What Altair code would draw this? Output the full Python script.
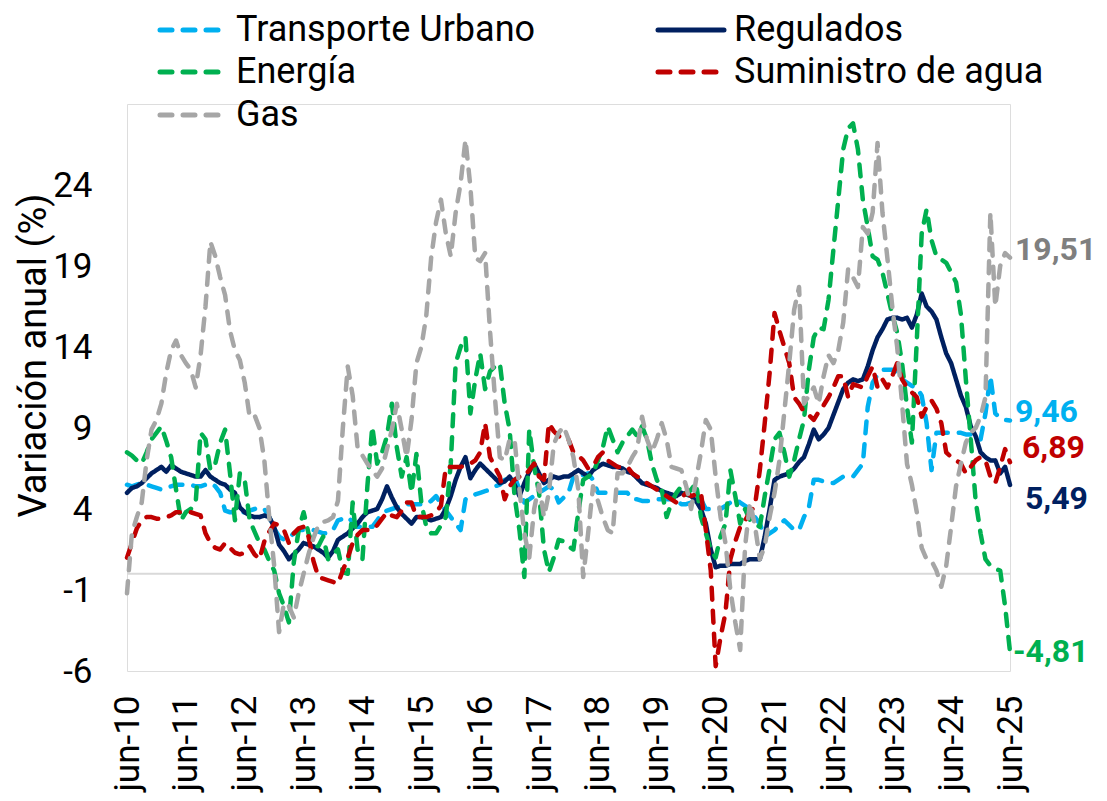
import altair as alt
import pandas as pd

# Months since jun-2010 (0 = jun-10 ... 180 = jun-25)
months = list(range(181))

series_names = ["Transporte Urbano", "Regulados", "Energía", "Suministro de agua", "Gas"]
series_colors = ["#00B0F0", "#002060", "#00B050", "#C00000", "#A6A6A6"]
label_colors = ["#00B0F0", "#002060", "#00B050", "#C00000", "#7F7F7F"]

transporte = [
    5.5, 5.4, 5.5, 5.6, 5.5, 5.4, 5.3, 5.2, 5.3, 5.4, 5.5, 5.5,
    5.5, 5.5, 5.4, 5.4, 5.5, 5.6, 5.4, 5.0, 3.9, 3.8, 3.8, 3.8,
    3.8, 3.9, 4.0, 4.1, 4.0, 3.5, 2.8, 2.3, 2.1, 2.2, 2.5, 2.7,
    2.7, 2.7, 2.7, 2.6, 2.5, 2.5, 2.7, 3.3, 3.4, 3.5, 3.2, 2.9,
    2.9, 2.9, 2.9, 3.3, 3.7, 3.9, 4.0, 4.1, 4.2, 4.3, 4.3, 4.3,
    4.3, 4.3, 4.5, 4.8, 4.3, 3.9, 3.5, 3.1, 2.7, 4.6, 4.7, 4.9,
    5.0, 5.1, 5.2, 5.4, 5.5, 5.8, 5.9, 6.0, 5.2, 4.4, 4.6, 4.8,
    5.0, 5.2, 5.4, 5.2, 4.4, 4.7, 5.0, 6.0, 6.1, 6.1, 6.2, 5.8,
    5.0, 5.0, 5.0, 5.0, 5.0, 5.0, 5.0, 4.6, 4.6, 4.5, 4.5, 4.5,
    4.6, 4.6, 4.6, 4.6, 4.5, 4.3, 4.3, 4.4, 4.5, 4.6, 4.0, 4.0,
    4.0, 4.0, 4.2, 4.4, 4.6, 4.4, 4.2, 4.0, 3.5, 3.1, 2.3, 2.5,
    2.7, 3.0, 3.3, 3.0, 2.7, 2.7, 3.5, 4.1, 5.8, 5.8, 5.7, 5.6,
    5.6, 5.8, 6.0, 6.0, 6.0, 6.4, 6.8, 10.3, 11.8, 12.3, 12.6, 12.6,
    12.6, 12.4, 12.0, 11.8, 11.6, 11.5, 11.0, 9.3, 6.4, 8.7, 8.7, 8.7,
    8.7, 8.7, 8.7, 8.6, 8.6, 8.5, 8.3, 9.9, 12.2, 9.9, 9.6, 9.5,
    9.46,
]

regulados = [
    5.0, 5.3, 5.4, 5.6, 5.9, 6.2, 6.4, 6.6, 6.3, 6.7, 6.5, 6.3,
    6.2, 6.1, 6.0, 6.0, 6.4, 6.0, 5.8, 5.6, 5.5, 5.2, 5.0, 4.1,
    3.8, 3.6, 3.5, 3.5, 3.6, 3.5, 2.9, 1.8, 1.4, 0.9, 1.2, 1.5,
    1.9, 1.8, 1.7, 1.5, 1.3, 1.0, 1.4, 2.1, 2.3, 2.5, 2.8, 3.1,
    3.5, 3.8, 3.9, 4.0, 4.6, 5.4, 4.7, 4.1, 3.7, 3.4, 3.1, 3.5,
    3.5, 3.4, 3.3, 3.4, 3.5, 4.0, 4.8, 5.8, 6.6, 7.2, 5.9, 6.4,
    6.8, 6.5, 6.2, 5.9, 5.6, 5.7, 6.0, 5.5, 4.8, 5.6, 6.3, 6.8,
    6.2, 5.6, 5.8, 6.0, 5.9, 6.0, 6.0, 6.2, 6.4, 6.2, 6.0, 6.4,
    6.6, 6.8, 6.7, 6.6, 6.6, 6.5, 6.3, 6.2, 5.9, 5.6, 5.5, 5.4,
    5.3, 5.1, 5.0, 4.9, 4.8, 5.0, 4.9, 4.8, 4.5, 4.0, 3.1, 1.5,
    0.4, 0.5, 0.5, 0.6, 0.6, 0.6, 0.8, 0.9, 0.9, 0.9, 2.3, 4.0,
    5.8, 6.0, 6.1, 6.2, 6.5, 6.9, 7.2, 8.0, 8.9, 8.3, 8.6, 9.0,
    9.8, 10.6, 11.4, 11.8, 12.0, 11.9, 12.0, 12.8, 13.8, 14.6, 15.1, 15.7,
    15.8, 15.8, 15.7, 15.8, 15.2, 16.0, 17.3, 16.5, 16.2, 15.7, 14.6, 13.6,
    13.0, 12.0, 11.0, 10.3, 9.1, 8.5, 7.5, 7.2, 7.0, 7.0, 6.2, 6.6,
    5.49,
]

energia = [
    7.5, 7.3, 7.0, 6.8, 7.5, 8.3, 8.7, 9.1, 8.2, 7.2, 5.2, 3.3,
    3.8, 4.0, 4.4, 8.7, 8.3, 6.4, 6.8, 8.1, 8.9, 6.2, 3.3, 6.2,
    5.8, 3.3, 2.6, 1.9, 1.5, 0.8, 0.2, -1.2, -2.0, -3.0, 0.7, 2.7,
    3.8, 2.5, 1.7, 1.7, 2.3, 0.9, 1.2, 1.5, 0.1, 0.0, 4.4, 1.5,
    0.9, 5.4, 9.1, 6.8, 7.5, 8.5, 10.5, 7.8, 6.0, 7.2, 5.0, 7.4,
    4.4, 2.9, 2.5, 2.5, 3.0, 3.5, 6.8, 13.0, 14.0, 14.6, 9.9, 12.0,
    13.6, 11.4, 12.5, 12.8, 13.0, 10.5, 8.9, 4.8, 2.7, -0.2, 8.9, 6.6,
    5.0, 1.5, 0.1, 1.0, 2.1, 2.0, 1.7, 1.5, 3.8, 5.8, 6.0, 6.2,
    7.0, 7.8, 9.1, 8.3, 7.5, 8.1, 8.5, 8.9, 8.5, 9.1, 8.3, 6.8,
    5.8, 5.2, 3.5, 4.4, 5.0, 5.4, 4.9, 5.2, 5.6, 3.5, 2.5, 1.5,
    1.0, 2.3, 3.1, 6.4, 4.8, 3.1, 4.0, 3.3, 3.1, 2.9, 4.8, 6.5,
    8.3, 8.7, 7.5, 6.0, 7.0, 8.3, 9.5, 12.6, 14.6, 15.2, 15.1, 16.9,
    20.0, 23.1, 26.2, 27.5, 27.8, 26.2, 23.1, 21.4, 19.6, 19.4, 18.6, 17.3,
    16.0, 14.9, 13.0, 10.3, 8.1, 14.4, 21.0, 22.5, 20.6, 19.6, 19.4, 19.2,
    18.6, 18.0, 16.0, 12.0, 8.3, 4.5, 2.5, 0.9, 0.5, 0.3, 0.2, -2.0,
    -4.81,
]

agua = [
    1.0, 1.9, 2.8, 3.3, 3.5, 3.5, 3.4, 3.4, 3.5, 3.6, 3.8, 3.8,
    3.8, 3.8, 3.7, 3.6, 2.5, 1.9, 1.6, 1.5, 1.9, 1.6, 1.3, 1.2,
    1.3, 1.7, 1.2, 0.9, 2.0, 2.6, 3.1, 3.0, 2.7, 1.9, 2.5, 2.8,
    2.9, 2.3, 0.8, -0.2, -0.3, -0.4, -0.5, -0.6, 0.2, 1.0, 1.9, 2.4,
    2.7, 2.7, 2.7, 3.0, 3.4, 3.8, 3.6, 3.5, 3.9, 4.4, 4.4, 3.5,
    3.5, 3.5, 3.6, 3.8, 4.2, 6.6, 6.6, 6.6, 6.6, 6.7, 6.8, 7.0,
    7.5, 9.3, 7.2, 6.6, 6.0, 4.6, 5.4, 5.8, 6.0, 6.0, 6.4, 6.8,
    6.0, 5.8, 9.3, 8.8, 8.5, 8.3, 8.3, 7.5, 7.3, 7.0, 6.5, 6.6,
    7.2, 7.5, 7.0, 6.8, 6.6, 6.6, 6.6, 6.2, 6.0, 5.8, 5.6, 5.4,
    5.2, 5.0, 4.8, 4.6, 4.4, 4.7, 5.0, 4.8, 4.9, 5.0, 2.7, 0.2,
    -5.7, -3.9, -2.4, 0.9, 2.0, 2.9, 3.3, 3.8, 4.2, 6.4, 9.3, 12.4,
    16.1, 15.0, 14.0, 13.0, 10.9, 10.5, 10.0, 9.8, 9.5, 10.0, 10.4, 10.9,
    11.5, 12.2, 12.2, 10.9, 11.7, 11.6, 11.5, 12.2, 12.8, 11.5, 12.0, 11.5,
    12.2, 13.0, 12.0, 11.5, 11.2, 10.9, 9.7, 10.3, 10.7, 10.2, 9.3, 7.5,
    7.2, 7.0, 6.8, 6.2, 6.6, 7.0, 7.2, 7.0, 6.0, 5.6, 6.6, 7.7,
    6.89,
]

gas = [
    -1.2, 2.5, 3.5, 4.4, 7.0, 8.9, 9.5, 10.5, 12.4, 13.8, 14.4, 13.5,
    13.0, 12.6, 11.5, 13.5, 16.5, 20.5, 19.6, 18.3, 17.2, 15.0, 13.8, 13.2,
    11.8, 9.7, 9.8, 9.0, 7.0, 3.5, 0.5, -3.6, -1.8, -2.0, -2.7, -1.2,
    0.0, 1.2, 2.2, 3.0, 3.2, 3.3, 3.5, 4.5, 9.0, 12.8, 11.0, 7.8,
    7.3, 6.8, 6.4, 6.0, 6.5, 7.7, 8.9, 10.5, 8.9, 7.2, 9.5, 13.0,
    14.0, 15.9, 19.5, 21.7, 23.1, 21.0, 19.6, 22.3, 24.1, 26.8, 23.9, 19.5,
    19.3, 19.8, 15.0, 10.9, 7.2, 7.0, 8.3, 8.3, 5.2, 2.5, 1.0, 4.0,
    5.5, 3.5, 5.0, 8.0, 8.7, 9.1, 8.3, 7.2, 5.2, -0.2, 2.5, 5.4,
    4.5, 3.5, 2.7, 2.5, 6.2, 6.2, 6.6, 7.2, 7.7, 9.7, 8.3, 7.5,
    8.3, 9.3, 8.3, 6.6, 6.5, 6.4, 5.4, 4.0, 5.8, 7.5, 9.5, 8.9,
    6.0, 3.5, 1.9, -1.0, -3.0, -4.7, 1.7, 4.4, 3.0, 0.9, 1.7, 3.5,
    5.0, 7.0, 10.0, 13.0, 16.3, 17.7, 10.5, 11.0, 11.5, 10.5, 12.2, 13.5,
    13.0, 13.8, 15.5, 18.8, 18.3, 17.7, 21.4, 21.0, 22.3, 26.6, 22.3, 19.5,
    16.5, 14.0, 10.5, 6.8, 5.5, 3.8, 1.6, 0.9, 0.8, 0.2, -0.8, 0.5,
    2.9, 5.4, 6.8, 8.1, 8.7, 9.0, 9.7, 10.9, 22.3, 16.5, 19.0, 19.8,
    19.51,
]

all_values = [transporte, regulados, energia, agua, gas]

tick_months = list(range(0, 181, 12))
y_ticks = [-6, -1, 4, 9, 14, 19, 24]

rows = []
for name, vals in zip(series_names, all_values):
    for m, v in zip(months, vals):
        rows.append({"m": m, "serie": name, "v": v})
df = pd.DataFrame(rows)

FONT = "Roboto"
DASH = [12, 11]
SOLID = [1, 0]
series_dash = [DASH, SOLID, DASH, DASH, DASH]

x_scale = alt.Scale(domain=[0, 180], nice=False, zero=False)
x_axis = alt.Axis(
    values=tick_months,
    labelExpr="'jun-' + (10 + datum.value / 12)",
    labelAngle=-90,
    labelFontSize=35,
    labelFont=FONT,
    labelColor="#000000",
    labelPadding=24,
    labelOverlap=False,
    labelFlush=False,
    ticks=False,
    domain=False,
    grid=False,
    title=None,
)
y_scale = alt.Scale(domain=[-6, 29], nice=False, zero=False)
y_axis = alt.Axis(
    values=y_ticks,
    labelExpr="'' + datum.value",
    labelFontSize=35,
    labelFont=FONT,
    labelColor="#000000",
    labelPadding=35,
    ticks=False,
    domain=False,
    grid=False,
    title="Variación anual (%)",
    titleFont=FONT,
    titleFontSize=38,
    titleFontWeight="normal",
    titleColor="#000000",
    titleX=-82,
    titleY=251,
    titleAngle=270,
    titleAlign="center",
    titleBaseline="alphabetic",
)

lines = alt.Chart(df).mark_line(
    strokeWidth=4.5, strokeCap="round", strokeJoin="round"
).encode(
    x=alt.X("m:Q", scale=x_scale, axis=x_axis),
    y=alt.Y("v:Q", scale=y_scale, axis=y_axis),
    color=alt.Color(
        "serie:N",
        scale=alt.Scale(domain=series_names, range=series_colors),
        legend=None,
    ),
    strokeDash=alt.StrokeDash(
        "serie:N",
        scale=alt.Scale(domain=series_names, range=series_dash),
        legend=None,
    ),
    order="m:Q",
)

zero_line = alt.Chart(pd.DataFrame({"v": [0]})).mark_rule(
    color="#D9D9D9", strokeWidth=2
).encode(y=alt.Y("v:Q", scale=y_scale, axis=y_axis))

# end-of-series value labels (offsets in pixels)
label_offsets = {
    "Transporte Urbano": (5, -9),
    "Regulados": (15, 14),
    "Energía": (3, 0),
    "Suministro de agua": (12, -14),
    "Gas": (5, -8),
}
label_layers = []
for name, vals, col in zip(series_names, all_values, label_colors):
    last = vals[-1]
    ldf = pd.DataFrame({"m": [months[-1]], "v": [last], "t": [f"{last:.2f}".replace(".", ",")]})
    dx, dy = label_offsets[name]
    label_layers.append(
        alt.Chart(ldf).mark_text(
            align="left", baseline="middle", dx=dx, dy=dy,
            font=FONT, fontSize=32, fontWeight="bold", color=col,
        ).encode(
            x=alt.X("m:Q", scale=x_scale, axis=x_axis),
            y=alt.Y("v:Q", scale=y_scale, axis=y_axis),
            text="t:N",
        )
    )

# legend (2 columns, row-major), positions relative to the plot origin
leg_col_x = [33, 531]      # symbol start per column
leg_sym_len = 66
leg_text_gap = 10
leg_row_y = [-74, -32, 11]
legend_layers = []
for i, (name, col, dash) in enumerate(zip(series_names, series_colors, series_dash)):
    c, r = i % 2, i // 2
    x0 = leg_col_x[c]
    y0 = leg_row_y[r]
    ent = pd.DataFrame({"serie": [name]})
    legend_layers.append(
        alt.Chart(ent).mark_rule(
            color=col, strokeWidth=5, strokeCap="round", strokeDash=dash
        ).encode(x=alt.value(x0), x2=alt.value(x0 + leg_sym_len), y=alt.value(y0))
    )
    legend_layers.append(
        alt.Chart(ent).mark_text(
            align="left", baseline="middle", font=FONT, fontSize=36, color="#000000"
        ).encode(x=alt.value(x0 + leg_sym_len + leg_text_gap), y=alt.value(y0), text="serie:N")
    )

chart = alt.layer(zero_line, lines, *label_layers, *legend_layers).properties(
    width=883,
    height=567,
    padding={"left": 119, "top": 96, "right": 89, "bottom": 122},
    autosize=alt.AutoSizeParams(type="none"),
).configure_view(stroke=None).configure(font=FONT)

chart.save("out.html", embed_options={"renderer": "svg", "actions": False})
